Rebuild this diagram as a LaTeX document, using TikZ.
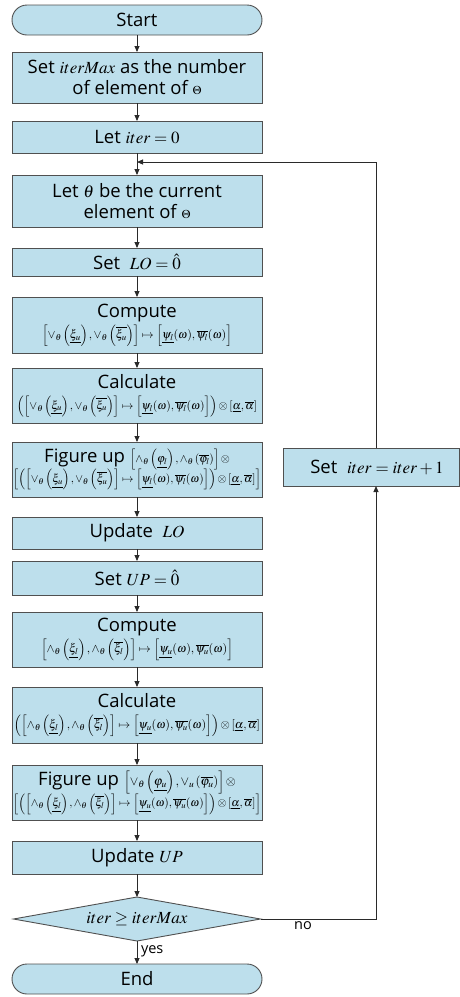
\documentclass[tikz,border=0pt]{standalone}
\usepackage{mathptmx}
\usepackage[no-math]{fontspec}
\setmainfont{Open Sans}
\usepackage{graphicx}
\usetikzlibrary{arrows.meta,shapes.geometric,shapes.misc}

\definecolor{boxfill}{HTML}{BDDFEC}
\definecolor{boxline}{HTML}{505050}
\definecolor{wire}{HTML}{2A2A2A}

% math in the step texts, a little smaller than the sans text
\newcommand{\mth}[1]{{\fontsize{17}{20}\selectfont$#1$}}
% formula line squeezed to a given width
\newcommand{\fline}[2]{\resizebox{#1}{!}{$#2$}}

\begin{document}
\begin{tikzpicture}[x=1pt,y=-1pt,
  every node/.style={inner sep=0pt,outer sep=0pt},
  stepbox/.style={draw=boxline,fill=boxfill,line width=0.9pt,
    minimum width=250pt,align=center,
    font=\fontsize{18.5}{21}\selectfont},
  termbox/.style={stepbox,rounded rectangle},
  condbox/.style={draw=boxline,fill=boxfill,line width=0.9pt,diamond,
    shape aspect=6,minimum width=247pt,minimum height=44pt},
  flow/.style={draw=wire,line width=0.9pt,-{Triangle[length=6pt,width=5pt]}},
  tag/.style={font=\fontsize{14.5}{16}\selectfont}
]
\useasboundingbox (0,0) rectangle (460,997);

\node[termbox,minimum height=30pt] (start) at (137,20) {Start};
\node[stepbox,minimum height=51pt] (setmax) at (137,77.5)
  {Set \mth{iterMax} as the number\\of element of {\fontsize{12}{12}\selectfont$\Theta$}};
\node[stepbox,minimum height=32pt] (zero) at (137,137) {Let \mth{iter=0}};
\node[stepbox,minimum height=52pt] (theta) at (137,201)
  {Let \mth{\theta} be the current\\element of {\fontsize{12}{12}\selectfont$\Theta$}};
\node[stepbox,minimum height=28pt] (setlo) at (137,262) {Set \ \mth{LO=\hat{0}}};

\node[stepbox,minimum height=56pt] (cmpa) at (137,325)
  {Compute\\[0pt]
   \fline{190pt}{\left[\vee_\theta\left(\underline{\xi_u}\right),\vee_\theta\left(\overline{\xi_u}\right)\right]\mapsto\left[\underline{\psi_l}(\omega),\overline{\psi_l}(\omega)\right]}};
\node[stepbox,minimum height=55pt] (calca) at (137,395.5)
  {Calculate\\[0pt]
   \fline{240pt}{\left(\left[\vee_\theta\left(\underline{\xi_u}\right),\vee_\theta\left(\overline{\xi_u}\right)\right]\mapsto\left[\underline{\psi_l}(\omega),\overline{\psi_l}(\omega)\right]\right)\otimes\left[\underline{\alpha},\overline{\alpha}\right]}};
\node[stepbox,minimum height=55pt] (figa) at (137,469.5)
  {Figure up \fline{100pt}{\left[\wedge_\theta\left(\underline{\varphi_l}\right),\wedge_\theta\left(\overline{\varphi_l}\right)\right]\otimes}\\[-1pt]
   \fline{248pt}{\left[\left(\left[\vee_\theta\left(\underline{\xi_u}\right),\vee_\theta\left(\overline{\xi_u}\right)\right]\mapsto\left[\underline{\psi_l}(\omega),\overline{\psi_l}(\omega)\right]\right)\otimes\left[\underline{\alpha},\overline{\alpha}\right]\right]}};
\node[stepbox,minimum height=32pt] (updlo) at (137,533) {Update \ \mth{LO}};
\node[stepbox,minimum height=34pt] (setup) at (137,578) {Set \mth{UP=\hat{0}}};

\node[stepbox,minimum height=55pt] (cmpb) at (137,639.5)
  {Compute\\[0pt]
   \fline{192pt}{\left[\wedge_\theta\left(\underline{\xi_l}\right),\wedge_\theta\left(\overline{\xi_l}\right)\right]\mapsto\left[\underline{\psi_u}(\omega),\overline{\psi_u}(\omega)\right]}};
\node[stepbox,minimum height=56pt] (calcb) at (137,715)
  {Calculate\\[0pt]
   \fline{246pt}{\left(\left[\wedge_\theta\left(\underline{\xi_l}\right),\wedge_\theta\left(\overline{\xi_l}\right)\right]\mapsto\left[\underline{\psi_u}(\omega),\overline{\psi_u}(\omega)\right]\right)\otimes\left[\underline{\alpha},\overline{\alpha}\right]}};
\node[stepbox,minimum height=55pt] (figb) at (137,792.5)
  {Figure up \fline{112pt}{\left[\vee_\theta\left(\underline{\varphi_u}\right),\vee_u\left(\overline{\varphi_u}\right)\right]\otimes}\\[-1pt]
   \fline{248pt}{\left[\left(\left[\wedge_\theta\left(\underline{\xi_l}\right),\wedge_\theta\left(\overline{\xi_l}\right)\right]\mapsto\left[\underline{\psi_u}(\omega),\overline{\psi_u}(\omega)\right]\right)\otimes\left[\underline{\alpha},\overline{\alpha}\right]\right]}};
\node[stepbox,minimum height=33pt] (updup) at (137,857.5) {Update \mth{UP}};

\node[condbox] (test) at (137,919) {\mth{iter\geq iterMax}};
\node[termbox,minimum height=30pt] (stop) at (137,979) {End};

\node[stepbox,minimum width=176pt,minimum height=38pt] (inc) at (371,467)
  {\hspace{12pt}Set \ \mth{iter=iter+1}};

% main column
\draw[flow] (start) -- (setmax);
\draw[flow] (setmax) -- (zero);
\draw[flow] (zero) -- (theta);
\draw[flow] (theta) -- (setlo);
\draw[flow] (setlo) -- (cmpa);
\draw[flow] (cmpa) -- (calca);
\draw[flow] (calca) -- (figa);
\draw[flow] (figa) -- (updlo);
\draw[flow] (updlo) -- (setup);
\draw[flow] (setup) -- (cmpb);
\draw[flow] (cmpb) -- (calcb);
\draw[flow] (calcb) -- (figb);
\draw[flow] (figb) -- (updup);
\draw[flow] (updup) -- (test);
\draw[flow] (test) -- node[tag,right=4pt,pos=0.45] {yes} (stop);

% loop back
\coordinate (rail) at (376,162);
\coordinate (join) at (137,162);
\draw[flow] (test.east) -- (rail |- test.east) -- (rail |- inc.south);
\node[tag] (no) at (303,926) {no};
\draw[flow] (rail |- inc.north) -- (rail) -- (join);
\end{tikzpicture}
\end{document}
